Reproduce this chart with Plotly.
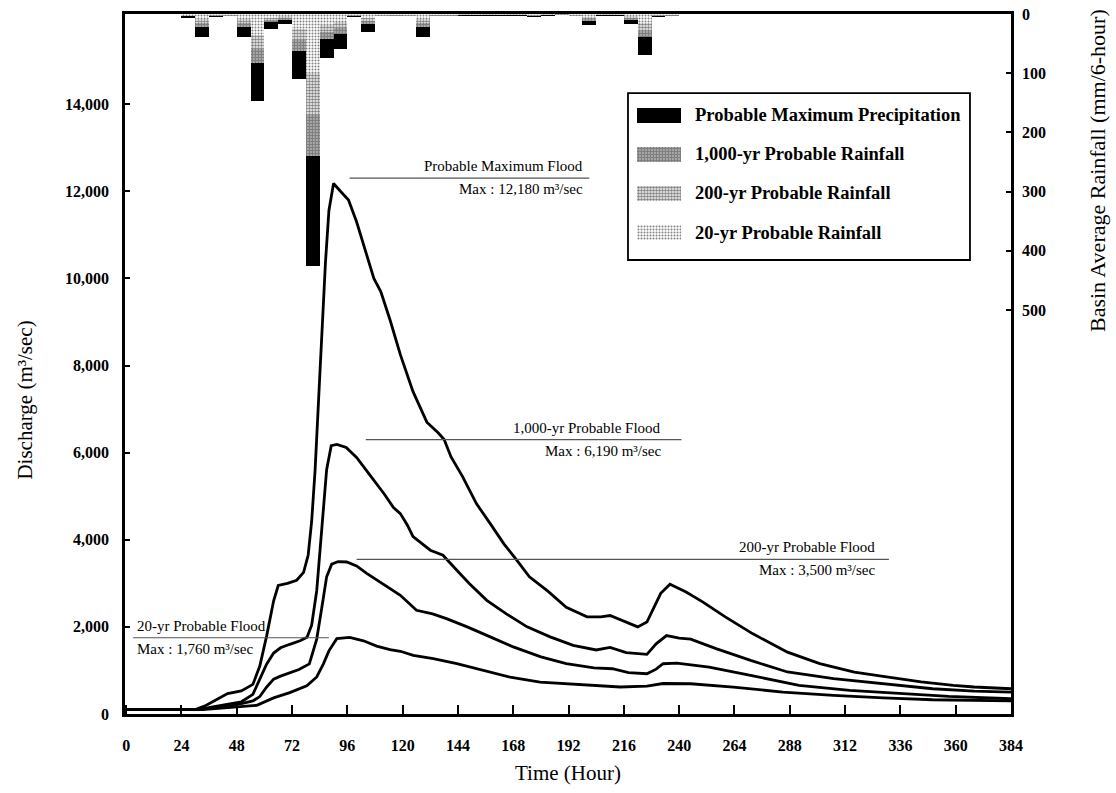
import plotly.graph_objects as go

# ---------------- data ----------------
# Rainfall (mm per 6-hour interval), interval start hours
rain_start_hours = [24, 30, 36, 42, 48, 54, 60, 66, 72, 78, 84, 90, 96, 102, 108, 114, 120, 126,
                    132, 138, 144, 150, 156, 162, 168, 174, 180, 186, 192, 198, 204, 210, 216, 222, 228, 234]
rain_pmp = [7, 39, 5, 4, 39, 147, 25, 17, 110, 426, 74, 59, 5, 30, 4, 3, 4, 39,
            3, 3, 2, 2, 2, 2, 2, 5, 2, 1, 4, 19, 2, 2, 17, 69, 5, 3]
rain_1000 = [4, 22, 3, 2, 22, 82, 14, 10, 62, 240, 42, 33, 3, 17, 2, 2, 2, 22,
             2, 2, 1, 1, 1, 1, 1, 3, 1, 1, 2, 11, 1, 1, 10, 39, 3, 2]
rain_200 = [3, 16, 2, 2, 16, 59, 10, 7, 44, 170, 30, 24, 2, 12, 2, 1, 2, 16,
            1, 1, 1, 1, 1, 1, 1, 2, 1, 0, 2, 8, 1, 1, 7, 28, 2, 1]
rain_20 = [2, 9, 1, 1, 9, 35, 6, 4, 26, 100, 18, 14, 1, 7, 1, 1, 1, 9,
           1, 1, 0, 0, 0, 0, 0, 1, 0, 0, 1, 5, 0, 0, 4, 16, 1, 1]
rain_names = ["Probable Maximum Precipitation", "1,000-yr Probable Rainfall",
              "200-yr Probable Rainfall", "20-yr Probable Rainfall"]

# Discharge hydrographs (m3/sec)
pmf_hours = [0, 30, 34, 38, 44, 50, 55, 58, 61, 64, 66, 70, 74, 77, 79, 80.5, 82, 83.5, 85, 86.5,
             88, 90, 93, 96.5, 100, 104, 107.5, 110.5, 114.5, 119, 124.5, 130.5, 135.5, 138, 141,
             146, 152, 158, 164, 170, 175, 183, 191, 200, 206, 210, 215, 222, 226, 229,
             232, 236, 243, 250, 260, 272, 287, 301, 316, 330, 345, 359, 368, 384]
pmf_q = [100, 100, 180, 300, 470, 530, 680, 1100, 1800, 2600, 2950, 3000, 3070, 3250, 3650, 4420, 5600, 7200, 8780, 10370,
         11560, 12180, 12000, 11800, 11300, 10600, 10000, 9700, 9050, 8250, 7400, 6700, 6450, 6300, 5900,
         5450, 4830, 4370, 3900, 3500, 3150, 2820, 2450, 2230, 2230, 2260, 2150, 2000, 2110, 2450,
         2770, 2980, 2800, 2580, 2230, 1840, 1420, 1155, 960, 850, 735, 655, 620, 580]

f1000_hours = [0, 32, 37, 44, 50, 55, 58, 61, 64, 67, 71, 75.5, 78.5, 80.5, 82.7, 85, 87, 89, 91.5, 95.5,
               100, 104, 107.5, 112, 116, 119, 122, 124.5, 132, 137.5, 143.5, 149, 156.5, 165, 174, 184,
               194, 204, 210, 217, 226, 230, 234.5, 240, 245, 256, 271, 287, 307, 329, 350, 368, 384]
f1000_q = [100, 100, 160, 230, 280, 450, 800, 1150, 1400, 1520, 1600, 1680, 1760, 2040, 2830, 4420, 5610, 6160, 6190, 6120,
           5890, 5610, 5370, 5050, 4740, 4600, 4340, 4070, 3760, 3645, 3300, 2990, 2610, 2300, 2000, 1770,
           1575, 1470, 1530, 1410, 1370, 1610, 1800, 1740, 1720, 1500, 1230, 965, 810, 695, 580, 527, 503]

f200_hours = [0, 32, 38, 44, 50, 55, 58, 61, 64, 67, 71, 75, 79.5, 82.7, 84.9, 87, 89.2, 92, 95.7, 100,
              104.4, 110, 116, 119, 126, 133, 139, 148, 158, 168, 180, 191, 203, 211, 218,
              226, 230, 233, 239, 249, 253, 271, 292, 314, 336, 357, 384]
f200_q = [100, 100, 150, 200, 240, 300, 400, 620, 800, 870, 940, 1020, 1150, 1720, 2440, 3150, 3440, 3500, 3490, 3400,
          3230, 3030, 2830, 2725, 2380, 2300, 2190, 2000, 1770, 1540, 1310, 1155, 1060, 1039, 950,
          924, 1030, 1154, 1169, 1100, 1077, 886, 656, 541, 464, 403, 350]

f20_hours = [0, 33, 40, 48, 56.7, 64, 71, 78.4, 82.7, 85.6, 88, 91.4, 97, 103, 108.7, 114.5, 119, 124.6,
             133.3, 143.5, 155, 166.6, 179.6, 192.7, 204.2, 214.4, 226, 233, 245, 263.5, 285, 307, 328.6, 350, 384]
f20_q = [100, 100, 130, 170, 200, 370, 490, 650, 850, 1150, 1450, 1730, 1760, 1680, 1560, 1480, 1440, 1346,
         1270, 1154, 1000, 847, 732, 694, 655, 620, 640, 700, 694, 617, 503, 426, 372, 327, 300]

x_ticks = list(range(0, 385, 24))
q_ticks = list(range(0, 14001, 2000))
rain_ticks = list(range(0, 501, 100))

# flood labels: (title, max value, guide-line level, line start hour, line end hour, text anchor hour, align)
flood_labels = [
    ("Probable Maximum Flood", 12180, 12300, 97, 201, 199, "right"),
    ("1,000-yr Probable Flood", 6190, 6300, 104, 241, 233, "right"),
    ("200-yr Probable Flood", 3500, 3550, 100, 331, 326, "right"),
    ("20-yr Probable Flood", 1760, 1750, 3, 88, 4, "left"),
]

SERIF = "Liberation Serif, Times New Roman, serif"

fig = go.Figure()

bar_centers = [h + 3 for h in rain_start_hours]
bar_markers = [
    dict(color="black"),
    dict(color="white", pattern=dict(shape=".", fgcolor="black", bgcolor="white", size=3, solidity=0.8)),
    dict(color="white", pattern=dict(shape=".", fgcolor="black", bgcolor="white", size=3, solidity=0.6)),
    dict(color="white", pattern=dict(shape=".", fgcolor="black", bgcolor="white", size=3, solidity=0.35)),
]
for name, vals, mk in zip(rain_names, [rain_pmp, rain_1000, rain_200, rain_20], bar_markers):
    mk = dict(mk)
    mk["line"] = dict(width=0)
    fig.add_trace(go.Bar(x=bar_centers, y=vals, width=6, name=name, yaxis="y2",
                         marker=mk, showlegend=False))

for hrs, q in [(pmf_hours, pmf_q), (f1000_hours, f1000_q), (f200_hours, f200_q), (f20_hours, f20_q)]:
    fig.add_trace(go.Scatter(x=hrs, y=q, mode="lines", line=dict(color="black", width=2.8),
                             showlegend=False, hoverinfo="skip"))

# custom legend swatches (inset hidden axes)
for name, mk in zip(rain_names, bar_markers):
    mk = dict(mk)
    mk["line"] = dict(width=0)
    fig.add_trace(go.Bar(x=[1], y=[name], orientation="h", width=0.38, marker=mk,
                         xaxis="x3", yaxis="y3", showlegend=False, hoverinfo="skip"))

annotations = []
shapes = []
for title, qmax, level, x0, x1, xt, align in flood_labels:
    shapes.append(dict(type="line", xref="x", yref="y", x0=x0, x1=x1, y0=level, y1=level,
                       line=dict(color="#555555", width=1.2)))
    annotations.append(dict(x=xt, y=level, xref="x", yref="y", text=title, showarrow=False,
                            xanchor=align, yanchor="bottom", yshift=2,
                            font=dict(family=SERIF, size=15, color="black")))
    annotations.append(dict(x=xt, y=level, xref="x", yref="y",
                            text=f"Max : {qmax:,} m³/sec", showarrow=False,
                            xanchor=align, yanchor="top", yshift=-1,
                            font=dict(family=SERIF, size=15, color="black")))

for name in rain_names:
    annotations.append(dict(x=0.6411, y=name, xref="paper", yref="y3", text=name, showarrow=False,
                            xanchor="left", yanchor="middle",
                            font=dict(family=SERIF, size=18.5, color="black", weight="bold")))

# legend frame
shapes.append(dict(type="rect", xref="paper", yref="paper", x0=0.5677, x1=0.9537, y0=0.6486, y1=0.8871,
                   line=dict(color="black", width=1.8), fillcolor="rgba(0,0,0,0)", layer="above"))

annotations.append(dict(x=-0.113, y=0.449, xref="paper", yref="paper", text="Discharge (m³/sec)",
                        textangle=-90, showarrow=False, xanchor="center", yanchor="middle",
                        font=dict(family=SERIF, size=21, color="black")))
annotations.append(dict(x=0.5, y=-0.0843, xref="paper", yref="paper", text="Time (Hour)",
                        showarrow=False, xanchor="center", yanchor="middle",
                        font=dict(family=SERIF, size=21, color="black")))
annotations.append(dict(x=1.097, y=0.777, xref="paper", yref="paper",
                        text="Basin Average Rainfall (mm/6-hour)", textangle=-90, showarrow=False,
                        xanchor="center", yanchor="middle",
                        font=dict(family=SERIF, size=22, color="black")))

tickfont = dict(family=SERIF, size=16, color="black", weight="bold")
fig.update_layout(
    width=1116, height=793,
    margin=dict(l=125, r=105, t=14, b=79),
    paper_bgcolor="white", plot_bgcolor="white",
    barmode="overlay", bargap=0,
    showlegend=False,
    xaxis=dict(range=[-0.5, 384], tickvals=x_ticks, ticks="inside", ticklen=9, tickwidth=1.5,
               tickcolor="black", showline=True, linecolor="black", linewidth=2.5, mirror=True,
               showgrid=False, zeroline=False, tickfont=tickfont, ticklabelstandoff=15,
               automargin=False, ticklabeloverflow="allow"),
    yaxis=dict(range=[0, 16070], tickvals=q_ticks, tickformat=",", ticks="inside", ticklen=5,
               tickwidth=1.5, tickcolor="black", showline=True, linecolor="black", linewidth=2.5,
               mirror=True, showgrid=False, zeroline=False, tickfont=tickfont, ticklabelstandoff=10,
               automargin=False, ticklabeloverflow="allow"),
    yaxis2=dict(range=[1182, 0], tickvals=rain_ticks, overlaying="y", side="right", ticks="inside",
                ticklen=5, tickwidth=1.5, tickcolor="black", showline=False, showgrid=False,
                zeroline=False, tickfont=tickfont, ticklabelstandoff=10, automargin=False,
                ticklabeloverflow="allow"),
    xaxis3=dict(domain=[0.5779, 0.6275], anchor="y3", range=[0, 1], visible=False, fixedrange=True),
    yaxis3=dict(domain=[0.66, 0.8829], anchor="x3", visible=False, autorange="reversed",
                categoryorder="array", categoryarray=rain_names, fixedrange=True),
    annotations=annotations,
    shapes=shapes,
)

fig.write_html("out.html", config={"displayModeBar": False},
               post_script="document.body.style.margin='0';document.body.style.overflow='hidden';")
